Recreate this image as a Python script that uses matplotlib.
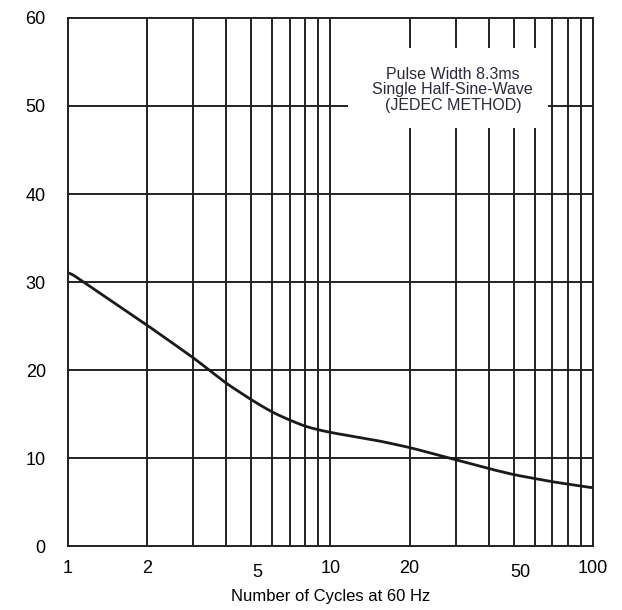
import numpy as np
import matplotlib
matplotlib.use('Agg')
import matplotlib.pyplot as plt
import matplotlib.transforms as mtransforms
from matplotlib.patches import Rectangle

plt.rcParams['font.family'] = ['Liberation Sans', 'DejaVu Sans']

# curve
cycles = [1, 2, 3, 4, 5, 6, 7, 8, 9, 10, 15, 20, 30, 40, 50, 70, 100]
current = [31.2, 25.1, 21.4, 18.5, 16.6, 15.2, 14.3, 13.6, 13.2, 12.9, 12.0, 11.2, 9.8, 8.8, 8.1, 7.3, 6.6]

xgrid = [1, 2, 3, 4, 5, 6, 7, 8, 9, 10, 20, 30, 40, 50, 60, 70, 80, 90, 100]
xticks = [1, 2, 5, 10, 20, 50, 100]
yticks = [0, 10, 20, 30, 40, 50, 60]

fig = plt.figure(figsize=(6.22, 6.10), dpi=100)
ax = fig.add_axes([0.1093, 0.1049, 0.8441, 0.8656])

ax.set_xscale('log')
ax.set_xlim(1, 100)
ax.set_ylim(0, 60)

for xv in xgrid:
    ax.axvline(xv, color='#222222', lw=1.4, zorder=1)
for yv in yticks[1:-1]:
    ax.axhline(yv, color='#222222', lw=1.4, zorder=1)

# smooth curve through read points (log x)
lx = np.log10(cycles)
xs = np.linspace(0, 2, 300)
ys = np.interp(xs, lx, current)
k = np.ones(9) / 9
ys_s = np.convolve(np.pad(ys, 4, mode='edge'), k, mode='valid')
ax.plot(10 ** xs, ys_s, color='#1a1a1a', lw=2.0, zorder=3)

# white note box
ax.add_patch(Rectangle((0.533, 0.792), 0.381, 0.151, transform=ax.transAxes,
                       facecolor='white', edgecolor='none', zorder=2))
ax.text(0.733, 0.864, 'Pulse Width 8.3ms\nSingle Half-Sine-Wave\n(JEDEC METHOD)',
        transform=ax.transAxes, ha='center', va='center', fontsize=11.5,
        linespacing=1.05, color='#2a2a3a', zorder=4)

ax.set_xticks(xticks)
ax.set_xticklabels([str(t) for t in xticks])
ax.minorticks_off()
ax.set_yticks(yticks)
ax.tick_params(axis='x', length=0, labelsize=13, pad=10)
ax.tick_params(axis='y', length=0, labelsize=13, pad=16)
for lab in ax.get_xticklabels():
    if lab.get_text() in ('5', '50'):
        off = mtransforms.ScaledTranslation(6 / 100, -4 / 100, fig.dpi_scale_trans)
        lab.set_transform(lab.get_transform() + off)
for s in ax.spines.values():
    s.set_linewidth(1.4)
    s.set_color('#222222')
    s.set_zorder(5)

ax.set_xlabel('Number of Cycles at 60 Hz', fontsize=12, labelpad=6)

fig.savefig('out.png', dpi=100)
